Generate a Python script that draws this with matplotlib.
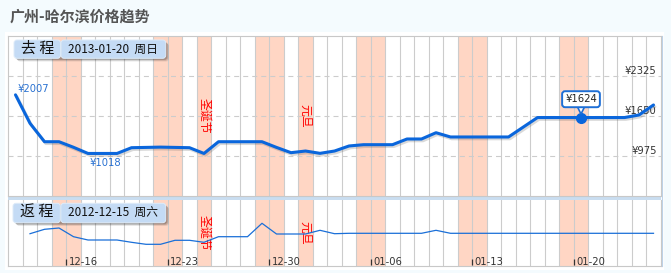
import numpy as np
import pandas as pd
import matplotlib
matplotlib.use('Agg')
import matplotlib.pyplot as plt
from matplotlib import patheffects as pe
from matplotlib import transforms as mtrans
from matplotlib.patches import FancyBboxPatch, Rectangle

plt.rcParams['font.family'] = ['DejaVu Sans']
plt.rcParams['lines.scale_dashes'] = False
CJK = ['Noto Sans CJK SC', 'DejaVu Sans']

# ---------------- data ----------------
title = '广州-哈尔滨价格趋势'
start_date = '2012-12-12'
end_date = '2013-01-25'
holidays = {'2012-12-25': '圣诞节', '2013-01-01': '元旦'}

outbound_label = '去 程'
outbound_date = '2013-01-20'
outbound_weekday = '周日'
outbound_prices = [2007, 1527, 1216, 1216, 1122, 1018, 1018, 1018, 1115, 1120,
                   1125, 1120, 1115, 1018, 1216, 1216, 1216, 1216, 1120, 1031,
                   1059, 1020, 1059, 1144, 1166, 1166, 1166, 1262, 1262, 1368,
                   1296, 1296, 1296, 1296, 1296, 1460, 1624, 1624, 1624, 1624,
                   1624, 1624, 1624, 1667, 1836]

return_label = '返 程'
return_date = '2012-12-15'
return_weekday = '周六'
return_prices = [np.nan, 1292, 1380, 1406, 1232, 1166, 1166, 1166, 1120, 1080,
                 1080, 1160, 1160, 1120, 1232, 1232, 1232, 1500, 1286, 1286,
                 1286, 1360, 1292, 1300, 1300, 1300, 1300, 1300, 1300, 1360,
                 1300, 1300, 1300, 1300, 1300, 1300, 1300, 1300, 1300, 1300,
                 1300, 1300, 1300, 1300, 1300]

price_ticks = [975, 1650, 2325]
top_ylim = (300, 3000)
bottom_ylim = (646, 1966)

# ---------------- style ----------------
BLUE = '#0A66DC'
LBLUE = '#2A72D2'
SHADE = '#FFD6C4'
GRID = '#CCCCCC'

W, H = 671, 273
fig = plt.figure(figsize=(W / 100, H / 100), dpi=100, facecolor='#F4FBFE')


def fx(px):
    return px / W


def fy(py):
    return 1 - py / H


bg = fig.add_axes([0, 0, 1, 1], zorder=-5)
bg.set_xlim(0, W)
bg.set_ylim(H, 0)
bg.axis('off')
bg.add_patch(Rectangle((5, 32), 659, 238, fc='white', ec='none'))
bg.add_patch(Rectangle((7.5, 196.5), 653.5, 3.5, fc='#C9DDF0', ec='none'))
bg.plot([661.8, 661.8], [36, 266], color='#BCD3EA', lw=0.8)

dates = pd.date_range(start_date, end_date)
n = len(dates)
idx = np.arange(n)
keys = [d.strftime('%Y-%m-%d') for d in dates]


def setup(ax, ylim):
    ax.set_xlim(-0.5, n - 0.5)
    ax.set_ylim(*ylim)
    ax.set_facecolor('white')
    for s in ax.spines.values():
        s.set_color('#C8C8C8')
        s.set_linewidth(0.8)
    for i, d in enumerate(dates):
        if d.weekday() >= 5 or keys[i] in holidays:
            ax.axvspan(i - 0.5, i + 0.5, color=SHADE, lw=0, zorder=0)
    for i in range(1, n):
        ax.axvline(i - 0.5, color=GRID, lw=0.8, zorder=1)
    ax.set_xticks([])
    ax.set_yticks([])
    for i, k in enumerate(keys):
        if k in holidays:
            ax.text(i, 0.5, holidays[k], transform=ax.get_xaxis_transform(),
                    rotation=-90, ha='center', va='center', color='#FF0000',
                    fontsize=8.6, family=CJK, zorder=3)


# ---------------- top chart ----------------
ax1 = fig.add_axes([fx(8.25), fy(196), 652.5 / W, 160 / H])
setup(ax1, top_ylim)
for v in price_ticks:
    ax1.axhline(v, color=GRID, lw=0.8, ls=(0, (3.6, 2.9)), zorder=1)
    ax1.annotate(f'¥{v}', xy=(1, v), xycoords=ax1.get_yaxis_transform(),
                 xytext=(-2.9, 3.8), textcoords='offset points', ha='right',
                 va='center', fontsize=7.2, color='#333333', zorder=2)

ax1.plot(idx, outbound_prices, color=BLUE, lw=2.2, zorder=4,
         solid_joinstyle='round', solid_capstyle='round',
         path_effects=[pe.SimpleLineShadow(offset=(1, -1.3), shadow_color='#555',
                                           alpha=0.22), pe.Normal()])

op = np.array(outbound_prices)
imax = int(np.argmax(op))
imin = int(np.argmin(op))
ax1.annotate(f'¥{op[imax]}', xy=(imax, op[imax]), xytext=(1.2, 4.3),
             textcoords='offset points', ha='left', va='center', fontsize=7.2,
             color=LBLUE, zorder=5)
ax1.annotate(f'¥{op[imin]}', xy=(imin, op[imin]), xytext=(1.2, -6.6),
             textcoords='offset points', ha='left', va='center', fontsize=7.2,
             color=LBLUE, zorder=5)

isel = keys.index(outbound_date)
vsel = outbound_prices[isel]
ax1.plot(isel, vsel, 'o', ms=7, color=BLUE, zorder=6)
tri = mtrans.offset_copy(ax1.transData, fig=fig, x=0, y=5.6, units='points')
ax1.plot(isel, vsel, marker='v', ms=5.5, mfc='white', mec='#1E6FD6', mew=1.2,
         transform=tri, zorder=6.5, clip_on=False)
ax1.annotate(f'¥{vsel}', xy=(isel, vsel), xytext=(0, 13.2),
             textcoords='offset points', ha='center', va='center', fontsize=7.2,
             color='#222222', zorder=7,
             bbox=dict(boxstyle='round,pad=0.3,rounding_size=0.3', fc='white',
                       ec='#1E6FD6', lw=1.4))

# ---------------- bottom chart ----------------
ax2 = fig.add_axes([fx(8.25), fy(266), 652.5 / W, 66 / H])
setup(ax2, bottom_ylim)
ax2.spines['top'].set_visible(False)
ax2.plot(idx, return_prices, color='#1A6FD8', lw=0.9, zorder=4)

sundays = [i for i, d in enumerate(dates) if d.weekday() == 6]
xt = ax2.get_xaxis_transform()
for i in sundays:
    ax2.plot([i - 0.5, i - 0.5], [0.01, 0.1], transform=xt, color='#333333',
             lw=0.9, zorder=5, solid_capstyle='butt')
    ax2.annotate(dates[i].strftime('%m-%d'), xy=(i - 0.5, 0), xycoords=xt,
                 xytext=(1.7, 2.8), textcoords='offset points', ha='left',
                 va='center', fontsize=7.2, color='#333333', zorder=5)

# ---------------- overlay: title and labels ----------------
ov = fig.add_axes([0, 0, 1, 1], zorder=10)
ov.set_xlim(0, W)
ov.set_ylim(H, 0)
ov.axis('off')
ov.patch.set_alpha(0)

ov.text(10, 16.5, title, fontsize=10.8, weight='bold', color='#555555',
        family=CJK, va='center', ha='left')


def label_group(y0, y1, x0, xm, x1, name, date, wd):
    for dx, dy, a in [(3.2, 3.2, 0.10), (2.4, 2.4, 0.15), (1.6, 1.6, 0.22)]:
        ov.add_patch(FancyBboxPatch((x0 + dx, y0 + dy), x1 - x0, y1 - y0,
                                    boxstyle='round,pad=0,rounding_size=3',
                                    fc='#222222', ec='none', alpha=a))
    ov.add_patch(FancyBboxPatch((x0, y0), xm - x0, y1 - y0,
                                boxstyle='round,pad=0,rounding_size=3',
                                fc='#C4DBF5', ec='#DDEBF9', lw=0.7))
    ov.add_patch(FancyBboxPatch((xm + 0.6, y0), x1 - xm - 0.6, y1 - y0,
                                boxstyle='round,pad=0,rounding_size=3',
                                fc='#C4DBF5', ec='#DDEBF9', lw=0.7))
    cy = (y0 + y1) / 2
    ov.text((x0 + xm) / 2, cy, name, ha='center', va='center', fontsize=10.8,
            family=CJK, color='#111111')
    ov.text((xm + x1) / 2, cy, f'{date}  {wd}', ha='center', va='center',
            fontsize=8.5, family=CJK, color='#111111')


label_group(40, 58.3, 14, 60.5, 165.7, outbound_label, outbound_date, outbound_weekday)
label_group(203.3, 222.7, 13, 60.3, 165.7, return_label, return_date, return_weekday)

fig.savefig('out.png', dpi=100, facecolor=fig.get_facecolor())
